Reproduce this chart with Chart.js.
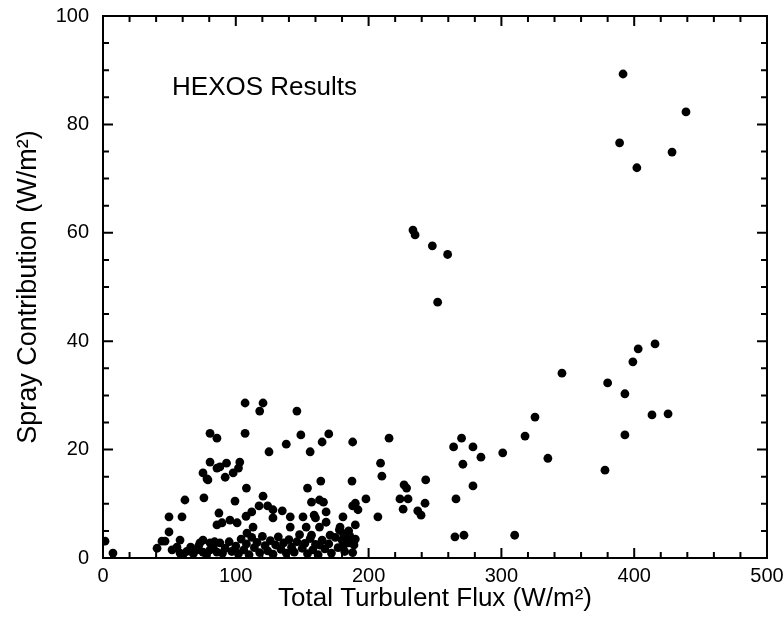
<!DOCTYPE html>
<html>
<head>
<meta charset="utf-8">
<script src="https://cdn.jsdelivr.net/npm/chart.js@4.4.1/dist/chart.umd.min.js"></script>
<style>
  body { margin: 0; background: #fff; }
  canvas { display: block; }
</style>
</head>
<body>
<canvas id="chart-canvas" width="784" height="639"></canvas>
<script>
// HEXOS results: total turbulent flux vs spray contribution, both W/m2
const fluxValues = [
    391.6, 439, 389, 428.5, 402,
    233.4, 235, 248, 259.5, 252,
    270, 278.6, 284.6, 271, 278.6, 265.8, 271.8, 265, 264, 301, 310, 317.8, 325.3, 335, 345.6,
    378, 380, 393, 393, 399, 403, 415.7, 413.4, 425.5,
    188, 215.4, 209, 210, 187.5, 226.7, 228.6, 243, 223.6, 229.7, 226, 237, 239.5, 242.5,
    207, 198, 190, 188, 192, 180.7, 190, 189, 178, 181, 183, 185, 180, 186,
    107, 120.5, 118, 146, 107, 149, 170, 165, 138, 125, 156, 93, 103, 98, 102, 164,
    108, 154, 120.5, 99.4, 163, 157, 166, 117.5, 124, 128, 135, 112, 107.7, 128, 141,
    150.6, 159, 168, 160, 141, 168, 95.6, 101, 113, 153, 163, 157, 171, 178.5, 180.7, 163, 108.4,
    80.6, 85.8, 80.6, 75.3, 78.3, 85.8, 88, 92, 79, 61.7, 76, 49.7, 59.5, 87.3, 85.8, 89.6,
    49.7, 44.4, 46.7, 58, 40.7, 1.5, 7.5, 52, 55.7, 58, 66, 73, 75.3, 80.6, 84, 88,
    70.8, 75.3, 80.6, 85.8,
    92, 95, 97, 100, 102, 104, 106, 108, 110, 112, 114, 116, 118, 120, 122, 124, 126, 128,
    130, 132, 134, 136, 138, 140, 142, 144, 146, 148, 150, 152, 154, 156, 158, 160, 162,
    165, 167, 170, 172, 175, 177, 182, 185, 188, 190, 60, 63, 68, 72, 78, 83, 90
];
const sprayValues = [
    89.3, 82.3, 76.6, 74.9, 72,
    60.5, 59.6, 57.6, 56, 47.2,
    22.1, 20.5, 18.6, 17.3, 13.3, 10.9, 4.2, 3.9, 20.5, 19.4, 4.2, 22.5, 26.0, 18.4, 34.1,
    16.2, 32.3, 30.3, 22.7, 36.2, 38.6, 39.5, 26.4, 26.6,
    21.4, 22.1, 17.5, 15.1, 14.2, 13.5, 12.9, 14.4, 10.9, 10.9, 9.0, 8.7, 7.9, 10.1,
    7.6, 10.9, 10.1, 9.6, 8.9, 7.6, 6.1, 2.4, 5.2, 4.5, 3.6, 5.0, 3.3, 4.0,
    28.6, 28.6, 27.1, 27.1, 23.0, 22.7, 22.9, 21.4, 21.0, 19.6, 19.6, 17.5, 17.7, 15.7, 16.6, 14.2,
    12.9, 12.9, 11.4, 10.5, 10.7, 10.3, 10.3, 9.6, 9.6, 8.9, 8.7, 8.5, 7.7, 7.4, 7.6,
    7.6, 7.9, 8.5, 7.4, 5.7, 6.6, 7.0, 6.5, 5.7, 5.7, 5.7, 4.2, 4.2, 5.7, 2.0, 2.4, 4.6,
    23.0, 22.1, 17.7, 15.7, 14.6, 16.6, 16.8, 14.9, 14.4, 10.7, 11.1, 7.6, 7.6, 8.3, 6.1, 6.5,
    4.8, 3.1, 3.1, 3.3, 1.8, 3.1, 0.9, 1.5, 2.0, 0.9, 2.0, 2.8, 3.3, 2.8, 3.0, 2.8,
    1.5, 1.1, 1.5, 1.1,
    1.8, 3.0, 1.2, 2.2, 0.8, 3.5, 1.5, 2.6, 0.6, 3.8, 1.9, 2.9, 1.0, 4.0, 2.3, 1.3, 3.2, 0.7,
    2.4, 3.9, 1.6, 2.8, 0.9, 3.4, 2.0, 1.1, 3.0, 4.3, 1.8, 2.7, 0.8, 3.6, 1.5, 2.5, 0.6,
    3.3, 1.7, 2.6, 0.9, 3.8, 1.9, 1.2, 2.8, 1.0, 3.5, 0.5, 1.2, 0.8, 2.2, 0.6, 2.0, 0.9
];
const xTickLabels = [0, 100, 200, 300, 400, 500];
const yTickLabels = [0, 20, 40, 60, 80, 100];

const points = fluxValues.map((v, i) => ({ x: v, y: sprayValues[i] }));
const fontFamily = '"Liberation Sans", Arial, sans-serif';

// box round the plot, ticks pointing inwards, and the "HEXOS Results" note
const frameTicks = {
    id: "frameTicks",
    afterDatasetsDraw(chart) {
        const { ctx, chartArea: a, scales: { x, y } } = chart;
        ctx.save();
        ctx.strokeStyle = "#000";
        ctx.lineWidth = 2;
        ctx.strokeRect(a.left, a.top, a.right - a.left, a.bottom - a.top);
        ctx.beginPath();
        x.ticks.forEach(t => {
            const px = x.getPixelForValue(t.value);
            const len = xTickLabels.includes(t.value) ? 10 : 6;
            ctx.moveTo(px, a.bottom); ctx.lineTo(px, a.bottom - len);
            ctx.moveTo(px, a.top); ctx.lineTo(px, a.top + len);
        });
        y.ticks.forEach(t => {
            const py = y.getPixelForValue(t.value);
            const len = yTickLabels.includes(t.value) ? 10 : 6;
            ctx.moveTo(a.left, py); ctx.lineTo(a.left + len, py);
            ctx.moveTo(a.right, py); ctx.lineTo(a.right - len, py);
        });
        ctx.stroke();

        ctx.fillStyle = "#000";
        ctx.font = "26px " + fontFamily;
        ctx.textBaseline = "middle";
        ctx.fillText("HEXOS Results", x.getPixelForValue(52), y.getPixelForValue(86.7));
        ctx.restore();
    }
};

const theChart = document.getElementById("chart-canvas").getContext("2d");
new Chart(theChart, {
    type: "scatter",
    data: {
        datasets: [{
            data: points,
            backgroundColor: "#000",
            borderWidth: 0,
            pointRadius: 4.4,
            pointHoverRadius: 4.4
        }]
    },
    options: {
        responsive: false,
        animation: false,
        layout: { padding: 0 },
        plugins: { legend: { display: false }, tooltip: { enabled: false } },
        scales: {
            x: {
                type: "linear",
                min: 0,
                max: 500,
                afterFit: s => { s.height = 81; s.paddingLeft = 0; s.paddingRight = 17; },
                border: { display: false },
                grid: { display: false },
                ticks: {
                    stepSize: 20,
                    autoSkip: false,
                    maxRotation: 0,
                    padding: -2,
                    color: "#000",
                    font: { family: fontFamily, size: 20 },
                    callback: v => xTickLabels.includes(v) ? String(v) : ""
                },
                title: {
                    display: true,
                    text: "Total Turbulent Flux (W/m²)",
                    color: "#000",
                    font: { family: fontFamily, size: 26 },
                    padding: { top: 0, bottom: 25 }
                }
            },
            y: {
                type: "linear",
                min: 0,
                max: 100,
                afterFit: s => { s.width = 103; s.paddingTop = 16; s.paddingBottom = 0; },
                border: { display: false },
                grid: { display: false },
                ticks: {
                    stepSize: 5,
                    autoSkip: false,
                    padding: 6,
                    color: "#000",
                    font: { family: fontFamily, size: 20 },
                    callback: v => yTickLabels.includes(v) ? String(v) : ""
                },
                title: {
                    display: true,
                    text: "Spray Contribution (W/m²)",
                    color: "#000",
                    font: { family: fontFamily, size: 27 },
                    padding: { top: 12, bottom: 0 }
                }
            }
        }
    },
    plugins: [frameTicks]
});
</script>
</body>
</html>
